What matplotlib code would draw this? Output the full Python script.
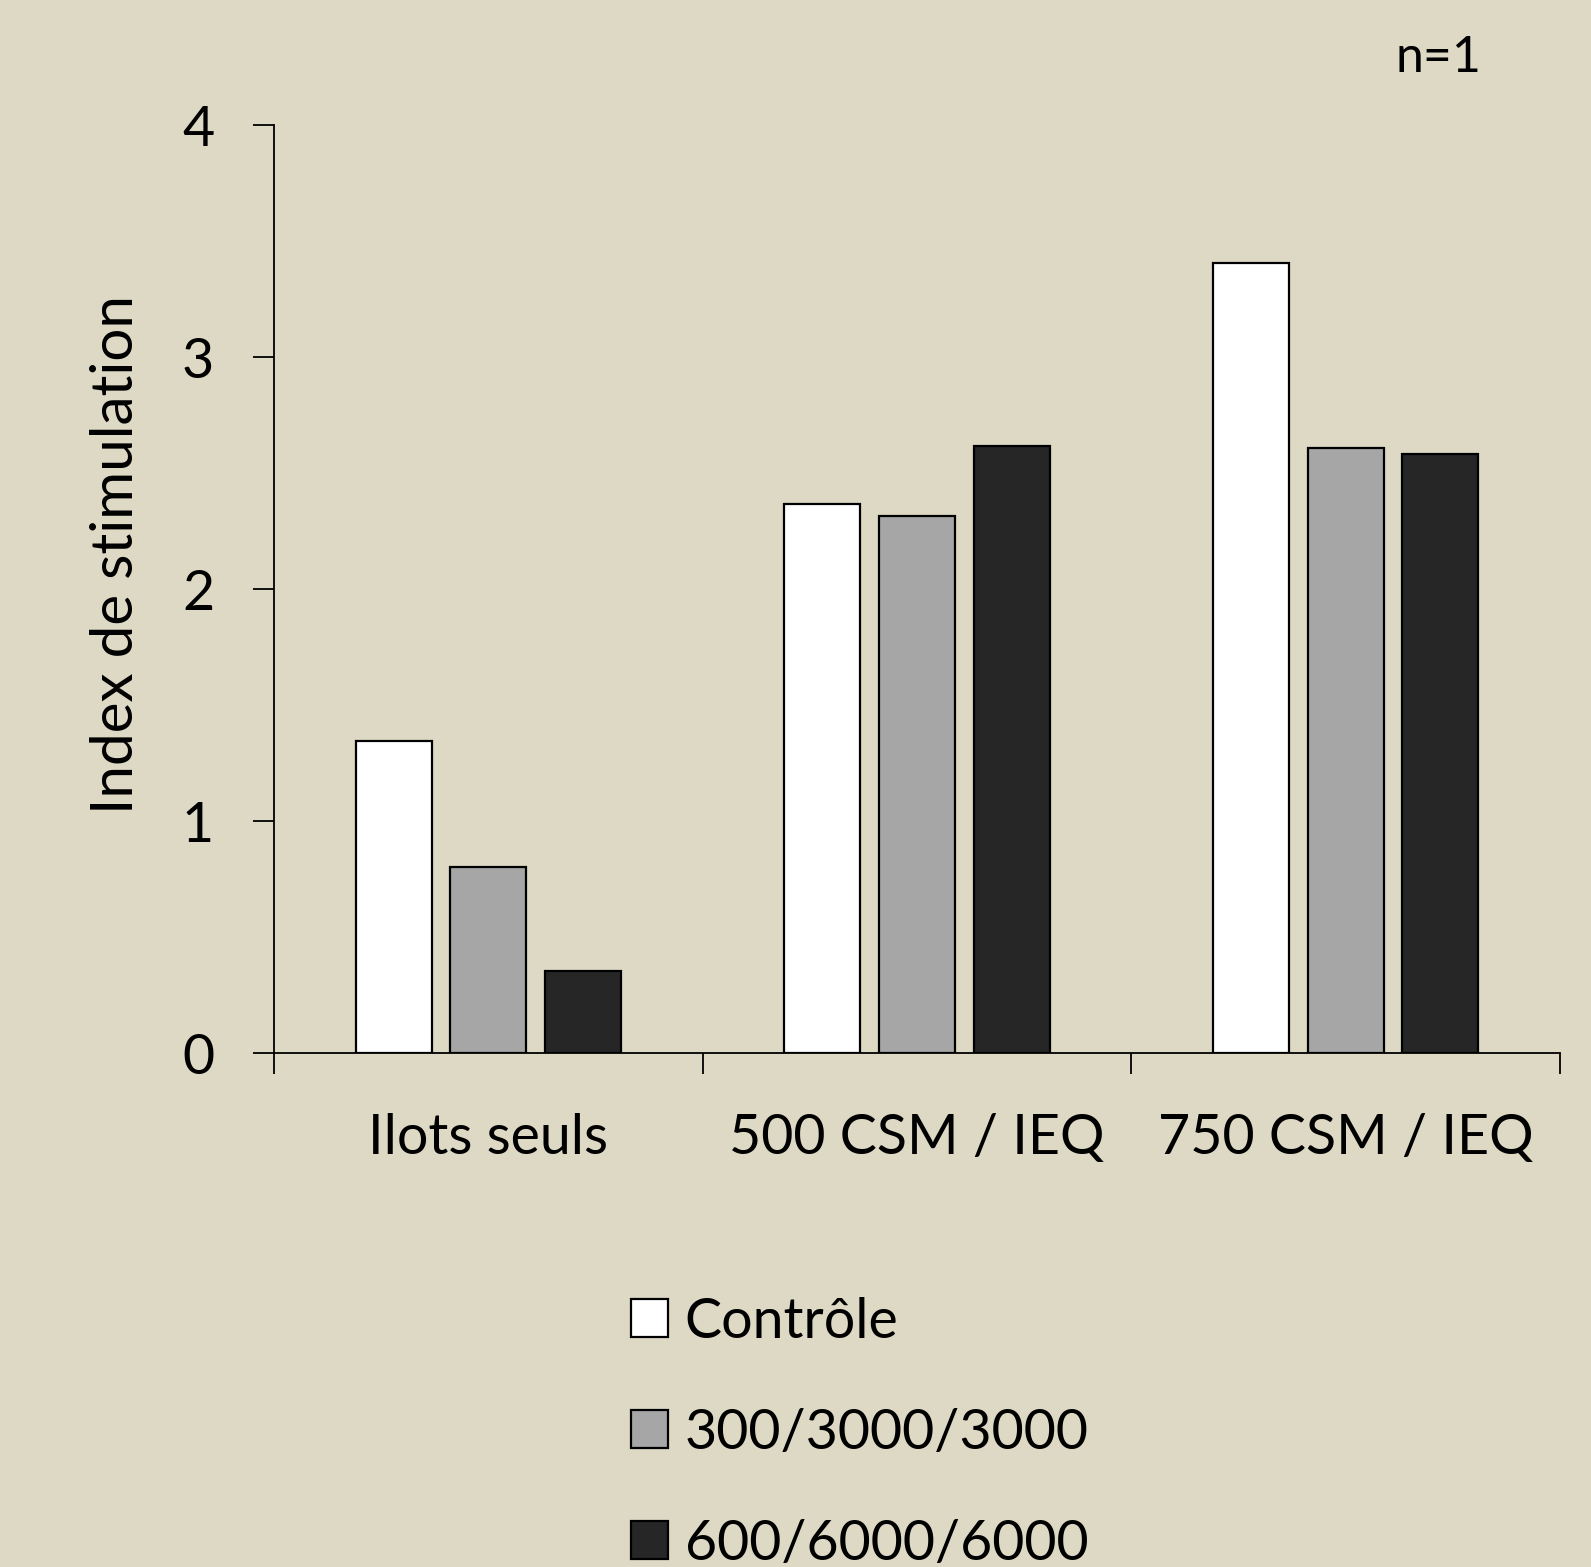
import numpy as np
import matplotlib.pyplot as plt

plt.rcParams['font.family'] = ['Lato', 'DejaVu Sans']

# Données
categories = ["Ilots seuls", "500 CSM / IEQ", "750 CSM / IEQ"]
series_names = ["Contrôle", "300/3000/3000", "600/6000/6000"]
controle = [1.345, 2.365, 3.405]
dose_300 = [0.80, 2.315, 2.61]
dose_600 = [0.352, 2.615, 2.58]
colors = ["#FFFFFF", "#A6A6A6", "#262626"]

bg = "#DDD9C4"
fig = plt.figure(figsize=(15.91, 15.67), dpi=100, facecolor=bg)
ax = fig.add_axes([0.1722, 0.328, 0.8083, 0.5922])
ax.set_facecolor(bg)

x = np.arange(len(categories))
width = 0.177
pitch = 0.221
handles = []
for i, (vals, name, c) in enumerate(zip([controle, dose_300, dose_600], series_names, colors)):
    b = ax.bar(x + (i - 1) * pitch, vals, width, color=c, edgecolor="black",
               linewidth=1.6, label=name)
    handles.append(b)

ax.set_xlim(-0.5, 2.5)
ax.set_ylim(0, 4)
ax.set_yticks([0, 1, 2, 3, 4])
ax.tick_params(axis="y", length=15, width=1.3, labelsize=40, pad=28)

# ticks aux limites des catégories, étiquettes au centre
ax.set_xticks([-0.5, 0.5, 1.5, 2.5])
ax.set_xticklabels([])
ax.set_xticks(x, minor=True)
ax.set_xticklabels(categories, minor=True)
ax.tick_params(axis="x", which="major", length=15, width=1.3)
ax.tick_params(axis="x", which="minor", length=0, labelsize=40, pad=43)

for s in ["top", "right"]:
    ax.spines[s].set_visible(False)
for s in ["left", "bottom"]:
    ax.spines[s].set_linewidth(1.3)

ax.set_ylabel("Index de stimulation", fontsize=42)
ax.yaxis.set_label_coords(-0.102, 0.537)

fig.text(0.931, 0.963, "n=1", fontsize=36, ha="right", va="center")

# la dernière ligne de la légende est coupée en bas, comme dans l'original
fig.legend(handles=handles, loc="upper left", bbox_to_anchor=(0.3825, 0.1868),
           frameon=False, fontsize=40, handlelength=0.67, handleheight=0.67,
           handletextpad=0.3, labelspacing=1.08, borderaxespad=0)

fig.savefig("out.png", dpi=100, facecolor=bg)
